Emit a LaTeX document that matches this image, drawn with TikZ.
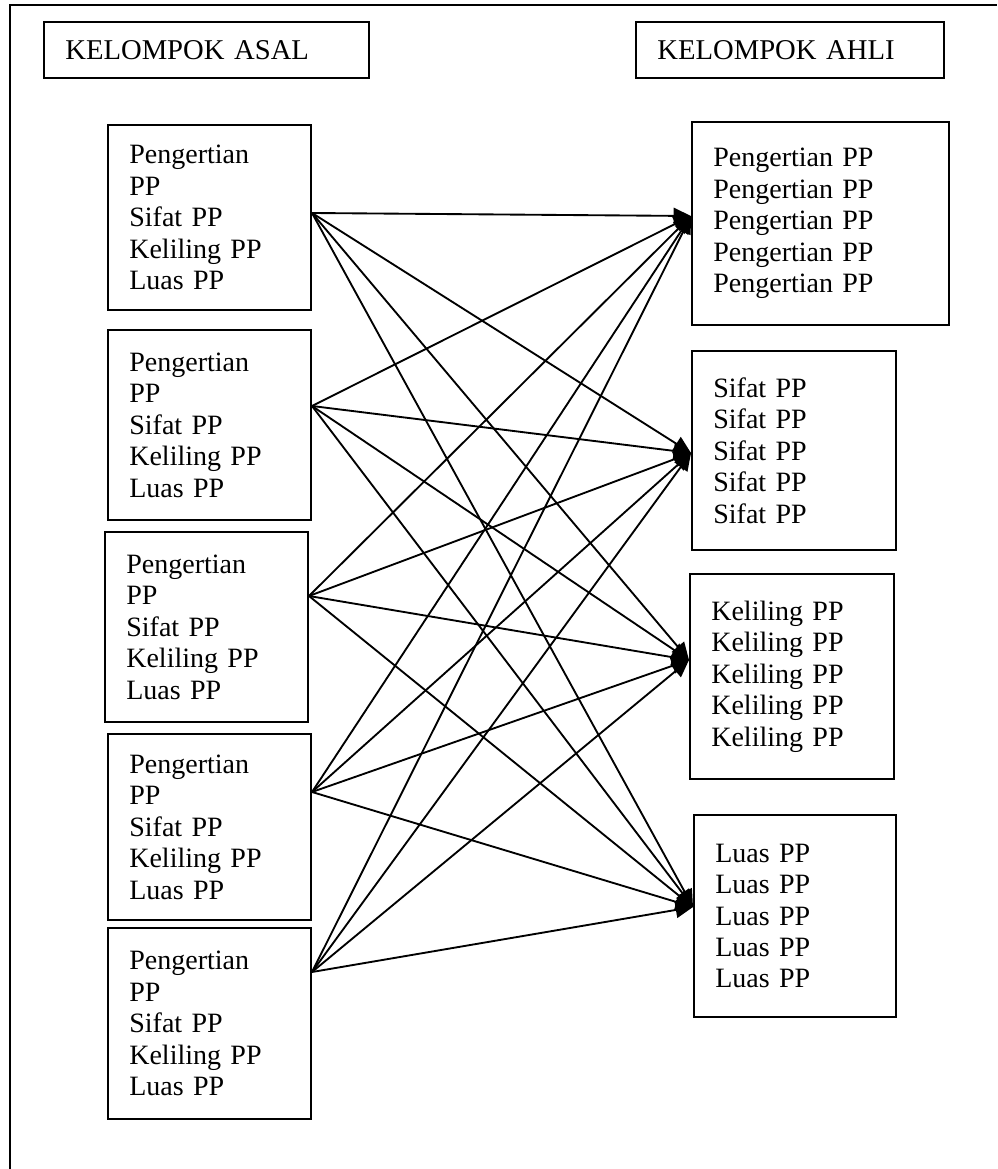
\documentclass[tikz,border=0pt]{standalone}
\usepackage{fontspec}
\setmainfont{Liberation Serif}
\usetikzlibrary{arrows.meta,positioning}

\tikzset{
  kotak/.style={draw, line width=1.5pt, align=left, inner xsep=16pt, inner ysep=0pt,
    text width=#1, font=\fontsize{21}{23.6}\selectfont},
  judul/.style={kotak=#1, minimum height=42pt, font=\fontsize{21.5}{25}\selectfont},
  panah/.style={line width=1.4pt, -{Triangle[length=13pt,width=12pt]}}
}

\begin{document}
\begin{tikzpicture}[x=0.75pt,y=-0.75pt]
  \useasboundingbox (0,0) rectangle (997,1169);
  % bingkai luar
  \draw[line width=1.5pt] (10,1169) -- (10,5) -- (997,5);

  % judul
  \node[judul=211.75pt] (asal) at (206.5,50) {KELOMPOK ASAL};
  \node[judul=199pt] (ahli) at (790,50) {KELOMPOK AHLI};

  % kelompok asal
  \node[kotak=120.25pt, minimum height=138.75pt] (L1) at (209.5,217.5)
    {Pengertian\\PP\\Sifat PP\\Keliling PP\\Luas PP};
  \node[kotak=120.25pt, minimum height=142.5pt] (L2) at (209.5,425)
    {Pengertian\\PP\\Sifat PP\\Keliling PP\\Luas PP};
  \node[kotak=120.25pt, minimum height=142.5pt] (L3) at (206.5,627)
    {Pengertian\\PP\\Sifat PP\\Keliling PP\\Luas PP};
  \node[kotak=120.25pt, minimum height=139.5pt] (L4) at (209.5,827)
    {Pengertian\\PP\\Sifat PP\\Keliling PP\\Luas PP};
  \node[kotak=120.25pt, minimum height=143.25pt] (L5) at (209.5,1023.5)
    {Pengertian\\PP\\Sifat PP\\Keliling PP\\Luas PP};

  % kelompok ahli
  \node[kotak=160.75pt, minimum height=152.25pt] (R1) at (820.5,223.5)
    {Pengertian PP\\Pengertian PP\\Pengertian PP\\Pengertian PP\\Pengertian PP};
  \node[kotak=121pt, minimum height=149.25pt] (R2) at (794,450.5)
    {Sifat PP\\Sifat PP\\Sifat PP\\Sifat PP\\Sifat PP};
  \node[kotak=121pt, minimum height=153.75pt] (R3) at (792,676.5)
    {Keliling PP\\Keliling PP\\Keliling PP\\Keliling PP\\Keliling PP};
  \node[kotak=119.5pt, minimum height=151.5pt] (R4) at (795,916)
    {Luas PP\\Luas PP\\Luas PP\\Luas PP\\Luas PP};

  % titik pangkal dan ujung panah
  \coordinate (a1) at (L1.east |- 0,213);
  \coordinate (a2) at (L2.east |- 0,406);
  \coordinate (a3) at (L3.east |- 0,596);
  \coordinate (a4) at (L4.east |- 0,792);
  \coordinate (a5) at (L5.east |- 0,972);
  \coordinate (b1) at (R1.west |- 0,216);
  \coordinate (b2) at (R2.west |- 0,453);
  \coordinate (b3) at (R3.west |- 0,660);
  \coordinate (b4) at (R4.west |- 0,907);

  \foreach \i in {1,...,5}
    \foreach \j in {1,...,4}
      \draw[panah] (a\i) -- (b\j);
\end{tikzpicture}
\end{document}
